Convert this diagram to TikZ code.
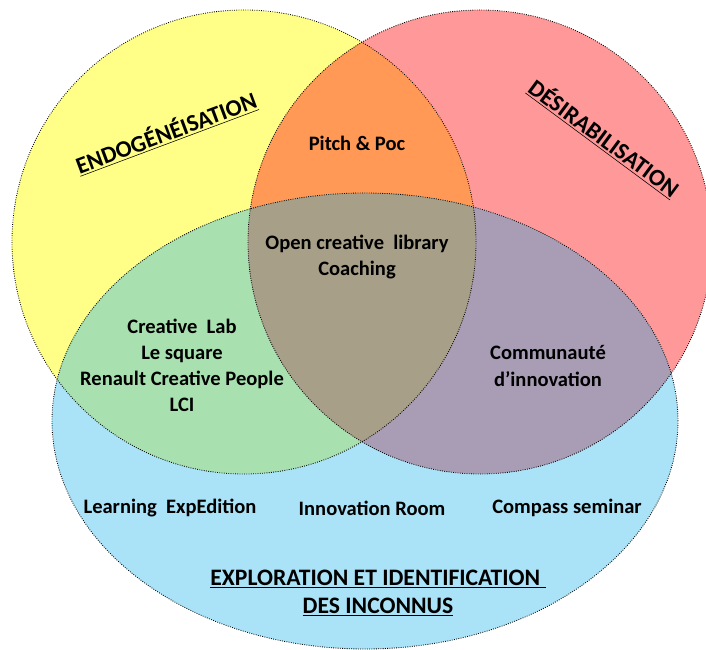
\documentclass[tikz,border=0pt]{standalone}
\usepackage{fontspec}
\setmainfont{Carlito}

\begin{document}
\begin{tikzpicture}[
    x=0.025cm, y=0.025cm,
    zone/.style = {draw=black, densely dotted, line width=0.6pt},
    entry/.style = {align=center, font=\bfseries\fontsize{14.6}{18.5}\selectfont},
    heading/.style = {entry, font=\bfseries\fontsize{16.8}{20}\selectfont}
]
  \definecolor{endoyellow}{HTML}{FFFF88}
  \definecolor{desirred}{HTML}{FF9999}
  \definecolor{exploblue}{HTML}{AAE2F7}
  \definecolor{pitchorange}{HTML}{FF9955}
  \definecolor{labgreen}{HTML}{A8E0B0}
  \definecolor{commpurple}{HTML}{A89DB4}
  \definecolor{coregrey}{HTML}{A89F88}

  \useasboundingbox (0,0) rectangle (706,650);

  \def\endozone{(244,408) ellipse [x radius=232, y radius=232]}
  \def\desirzone{(480,408) ellipse [x radius=232, y radius=232]}
  \def\explozone{(365,229) ellipse [x radius=313, y radius=228]}

  \fill[endoyellow] \endozone;
  \fill[desirred] \desirzone;
  \fill[exploblue] \explozone;
  \begin{scope}
    \clip \endozone;
    \fill[pitchorange] \desirzone;
    \fill[labgreen] \explozone;
  \end{scope}
  \begin{scope}
    \clip \desirzone;
    \fill[commpurple] \explozone;
    \clip \explozone;
    \fill[coregrey] \endozone;
  \end{scope}
  \draw[zone] \endozone;
  \draw[zone] \desirzone;
  \draw[zone] \explozone;

  \node (endo) [heading, rotate=20.5] at (166,517) {\underline{ENDOGÉNÉISATION}};
  \node (desir) [heading, rotate=-36.5] at (604,512) {\underline{DÉSIRABILISATION}};
  \node (explo) [heading] at (378,57) {\underline{EXPLORATION ET IDENTIFICATION\ }\\\underline{DES INCONNUS}};

  \node (pitch) [entry] at (357,507) {Pitch \& Poc};
  \node (core) [entry] at (357,393) {Open creative\ \ library\\Coaching};
  \node (lab) [entry] at (182,285) {Creative\ \ Lab\\Le square\\Renault Creative People\\LCI};
  \node (comm) [entry] at (548,284) {Communauté\\d’innovation};
  \node (learn) [entry] at (170,142) {Learning\ \ ExpEdition};
  \node (room) [entry] at (372,142) {Innovation Room};
  \node (compass) [entry] at (567,142) {Compass seminar};

\end{tikzpicture}
\end{document}
